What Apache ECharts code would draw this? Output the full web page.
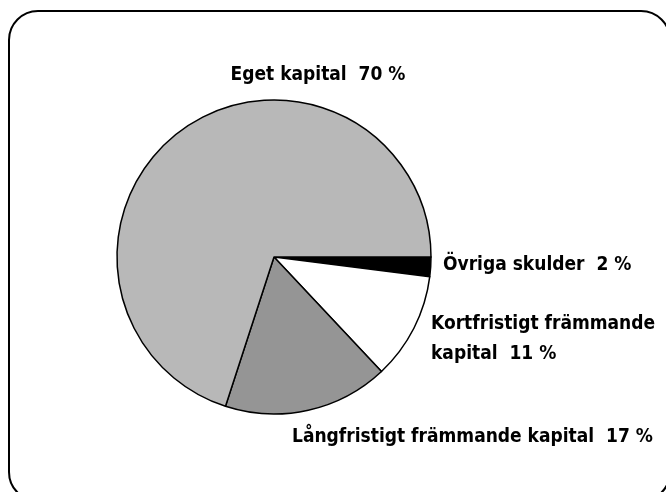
<!DOCTYPE html>
<html>
<head>
<meta charset="utf-8">
<script src="https://cdn.jsdelivr.net/npm/echarts@6/dist/echarts.min.js"></script>
<style>
  html, body { margin: 0; padding: 0; background: #fff; }
  #main { width: 666px; height: 492px; }
</style>
</head>
<body>
<div id="main"></div>
<script>
// andelar i procent, medurs från klockan 3
var names = ['Övriga skulder', 'Kortfristigt främmande kapital', 'Långfristigt främmande kapital', 'Eget kapital'];
var values = [2, 11, 17, 70];
var colors = ['#000000', '#ffffff', '#959595', '#b8b8b8'];

// var etikett hamnar (x, y, align)
var labelPos = [
    [443, 265, 'left'],
    [431, 339, 'left'],
    [292, 437, 'left'],
    [318, 75, 'center']
];

var chart = echarts.init(document.getElementById('main'));

var option = {
    backgroundColor: '#fff',
    animation: false,
    graphic: [{
        type: 'rect',
        shape: { x: 9, y: 11, width: 661, height: 490, r: 29 },
        style: { fill: 'none', stroke: '#000', lineWidth: 2 },
        silent: true
    }],
    series: [{
        type: 'pie',
        center: [274, 257],
        radius: 157,
        startAngle: 0,
        clockwise: true,
        avoidLabelOverlap: false,
        itemStyle: { borderColor: '#000', borderWidth: 1.5 },
        label: {
            show: true,
            position: 'outside',
            fontFamily: '"DejaVu Sans Condensed"',
            fontWeight: 'bold',
            fontSize: 19,
            lineHeight: 30,
            color: '#000',
            formatter: function (p) {
                var t = p.name + '  ' + p.value + ' %';
                if (p.dataIndex === 1) t = 'Kortfristigt främmande\nkapital  ' + p.value + ' %';
                return t;
            }
        },
        labelLine: { show: false },
        labelLayout: function (params) {
            var p = labelPos[params.dataIndex];
            return { x: p[0], y: p[1], align: p[2], verticalAlign: 'middle' };
        },
        data: names.map(function (n, i) {
            return { name: n, value: values[i], itemStyle: { color: colors[i] } };
        })
    }]
};

chart.setOption(option);
</script>
</body>
</html>
